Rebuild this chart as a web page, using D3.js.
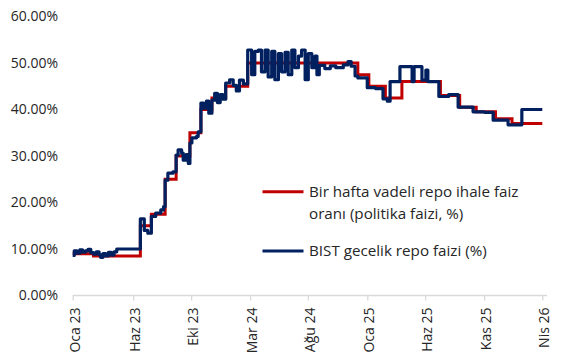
<!DOCTYPE html>
<html>
<head>
<meta charset="utf-8">
<script src="https://cdn.jsdelivr.net/npm/d3@7"></script>
<style>
  body { margin: 0; background: #fff; }
  text { font-family: "Segoe UI", "Open Sans", sans-serif; fill: #262626; }
</style>
</head>
<body>
<script>
'use strict';

// policy rate (one week repo), step changes
const policyDates = ["2023-01-02", "2023-02-24", "2023-06-23", "2023-07-21", "2023-08-25", "2023-09-22",
  "2023-10-27", "2023-11-24", "2023-12-22", "2024-01-26", "2024-03-22", "2024-12-27", "2025-01-24",
  "2025-03-07", "2025-04-18", "2025-07-25", "2025-09-12", "2025-10-24", "2025-12-12", "2026-01-23", "2026-04-10"];
const policyRates = [9, 8.5, 15, 17.5, 25, 30, 35, 40, 42.5, 45, 50, 47.5, 45, 42.5, 46, 43, 40.5, 39.5, 38, 37, 37];

// BIST overnight repo
const bistDates = ["2023-01-02", "2023-01-06", "2023-01-13", "2023-01-20", "2023-01-27", "2023-02-03", "2023-02-10",
  "2023-02-17", "2023-02-24", "2023-03-03", "2023-03-10", "2023-03-14", "2023-03-20", "2023-03-27", "2023-04-03",
  "2023-04-10", "2023-04-17", "2023-04-24", "2023-06-23", "2023-07-03", "2023-07-12", "2023-07-21", "2023-08-01",
  "2023-08-14", "2023-08-21", "2023-08-25", "2023-09-01", "2023-09-14", "2023-09-22", "2023-09-27", "2023-10-06",
  "2023-10-10", "2023-10-17", "2023-10-23", "2023-10-27", "2023-11-01", "2023-11-13", "2023-11-17", "2023-11-24",
  "2023-12-01", "2023-12-08", "2023-12-14", "2023-12-22", "2023-12-29", "2024-01-05", "2024-01-12", "2024-01-19",
  "2024-01-26", "2024-02-05", "2024-02-14", "2024-02-22", "2024-03-01", "2024-03-11", "2024-03-22", "2024-04-01",
  "2024-04-09", "2024-04-18", "2024-04-26", "2024-05-05", "2024-05-13", "2024-05-22", "2024-05-30", "2024-06-08",
  "2024-06-16", "2024-06-25", "2024-07-03", "2024-07-12", "2024-07-20", "2024-07-29", "2024-08-06", "2024-08-15",
  "2024-08-23", "2024-09-01", "2024-09-09", "2024-09-14", "2024-09-20", "2024-10-04", "2024-10-18", "2024-11-01",
  "2024-11-20", "2024-12-02", "2024-12-10", "2024-12-20", "2024-12-27", "2025-01-20", "2025-02-10", "2025-03-01",
  "2025-03-12", "2025-03-19", "2025-04-13", "2025-05-14", "2025-05-19", "2025-06-08", "2025-06-18", "2025-06-23",
  "2025-07-21", "2025-08-15", "2025-09-08", "2025-10-16", "2025-11-14", "2025-12-06", "2026-01-13", "2026-02-17",
  "2026-04-10"];
const bistRates = [8.6, 9.6, 9.1, 9.8, 9.3, 9.6, 9.9,
  9.2, 8.9, 9.4, 8.8, 8.2, 9.0, 8.5, 9.3,
  8.7, 9.4, 10.0, 16.5, 14.0, 13.4, 17.0, 17.7,
  18.4, 19.1, 24.8, 26.3, 26.6, 30.2, 31.3, 30.6,
  29.1, 30.3, 28.4, 32.8, 33.9, 34.2, 35.2, 41.4,
  40.3, 41.8, 39.2, 42.0, 43.5, 41.5, 43.2, 42.2,
  45.7, 46.4, 45.2, 44.0, 46.3, 45.5, 52.8, 47.5,
  52.5, 52.8, 48.1, 52.8, 47.0, 52.5, 46.4, 52.0,
  48.1, 52.3, 47.5, 52.8, 49.0, 51.5, 52.8, 46.4,
  52.0, 49.0, 51.5, 47.5, 49.5, 48.8, 49.4, 49.0,
  49.6, 50.3, 49.3, 47.2, 46.8, 44.7, 44.5, 42.3,
  41.8, 46.0, 49.2, 46.0, 49.2, 46.3, 48.5, 46.0,
  42.8, 43.2, 40.5, 39.5, 39.4, 37.7, 36.7, 40.0,
  40.0];

// axis ticks
const yTicks = [0, 10, 20, 30, 40, 50, 60];
const xTickDates = ["2023-01-02", "2023-06-05", "2023-10-30", "2024-03-28", "2024-08-22",
  "2025-01-20", "2025-06-16", "2025-11-13", "2026-04-10"];
const monthNames = ["Oca", "Şub", "Mar", "Nis", "May", "Haz", "Tem", "Ağu", "Eyl", "Eki", "Kas", "Ara"];

const legendLabels = [["Bir hafta vadeli repo ihale faiz", "oranı (politika faizi, %)"], ["BIST gecelik repo faizi (%)"]];

(function() {

  let svgContainer = "";
  const parseDate = d3.timeParse("%Y-%m-%d");

  window.onload = function() {
    svgContainer = d3.select('body')
      .append('svg')
      .attr('width', 565)
      .attr('height', 364);

    let policy = policyDates.map((d, i) => ({date: parseDate(d), value: policyRates[i]}));
    let bist = bistDates.map((d, i) => ({date: parseDate(d), value: bistRates[i]}));

    let map = drawAxes();
    plotData(map, policy, bist);
    makeLegend();
  }

  // draw the axes and ticks
  function drawAxes() {
    let trLocale = d3.timeFormatLocale({
      dateTime: "%d.%m.%Y %H:%M", date: "%d.%m.%Y", time: "%H:%M:%S",
      periods: ["", ""],
      days: ["Pazar", "Pazartesi", "Salı", "Çarşamba", "Perşembe", "Cuma", "Cumartesi"],
      shortDays: ["Paz", "Pzt", "Sal", "Çar", "Per", "Cum", "Cmt"],
      months: ["Ocak", "Şubat", "Mart", "Nisan", "Mayıs", "Haziran", "Temmuz", "Ağustos", "Eylül", "Ekim", "Kasım", "Aralık"],
      shortMonths: monthNames
    });

    let xScale = d3.scaleTime()
      .domain([parseDate(xTickDates[0]), parseDate(xTickDates[xTickDates.length - 1])])
      .range([72.7, 542.3]);

    let yScale = d3.scaleLinear()
      .domain([0, 60])
      .range([295.5, 16.5]);

    // baseline runs a little past the last tick
    svgContainer.append('line')
      .attr('x1', 72.7)
      .attr('x2', 547)
      .attr('y1', 295.5)
      .attr('y2', 295.5)
      .style('stroke', '#d9d9d9')
      .style('stroke-width', 1.3);

    let xAxis = d3.axisBottom(xScale)
      .tickValues(xTickDates.map(parseDate))
      .tickFormat(trLocale.format("%b %y"))
      .tickSize(5);
    let gx = svgContainer.append('g')
      .attr('transform', 'translate(0, 295.5)')
      .call(xAxis);
    gx.select('.domain').remove();
    gx.selectAll('line').style('stroke', '#d9d9d9').style('stroke-width', 1.3);
    gx.selectAll('text')
      .attr('transform', 'rotate(-90)')
      .attr('x', -12)
      .attr('y', 1.5)
      .attr('dy', '0.35em')
      .style('text-anchor', 'end')
      .style('font-size', '14px')
      .style('fill', '#262626')
      .style('font-family', '"Segoe UI", "Open Sans", sans-serif');

    let yAxis = d3.axisLeft(yScale)
      .tickValues(yTicks)
      .tickFormat((d) => d3.format(".2f")(d) + "%")
      .tickSize(0)
      .tickPadding(0);
    let gy = svgContainer.append('g')
      .attr('transform', 'translate(58, 0)')
      .call(yAxis);
    gy.select('.domain').remove();
    gy.selectAll('text')
      .style('font-size', '14px')
      .style('fill', '#262626')
      .style('font-family', '"Segoe UI", "Open Sans", sans-serif');

    return {xScale: xScale, yScale: yScale};
  }

  // both series drawn as steps, overnight rate on top
  function plotData(map, policy, bist) {
    let line = d3.line()
      .x((d) => map.xScale(d.date))
      .y((d) => map.yScale(d.value))
      .curve(d3.curveStepAfter);

    svgContainer.append('path')
      .datum(policy)
      .attr('d', line)
      .style('fill', 'none')
      .style('stroke', '#c00000')
      .style('stroke-width', 3);

    svgContainer.append('path')
      .datum(bist)
      .attr('d', line)
      .style('fill', 'none')
      .style('stroke', '#002060')
      .style('stroke-width', 3.2)
      .style('stroke-linejoin', 'round');
  }

  // legend at right, inside the plot
  function makeLegend() {
    let colors = ['#c00000', '#002060'];
    let rowY = [191.7, 251];

    legendLabels.forEach((lines, i) => {
      svgContainer.append('line')
        .attr('x1', 262.5)
        .attr('x2', 303.5)
        .attr('y1', rowY[i])
        .attr('y2', rowY[i])
        .style('stroke', colors[i])
        .style('stroke-width', 3);

      lines.forEach((t, j) => {
        svgContainer.append('text')
          .attr('x', 309)
          .attr('y', rowY[i] + j * 21.5)
          .attr('dy', '0.35em')
          .style('font-size', '15.2px')
          .text(t);
      });
    });
  }

})();
</script>
</body>
</html>
